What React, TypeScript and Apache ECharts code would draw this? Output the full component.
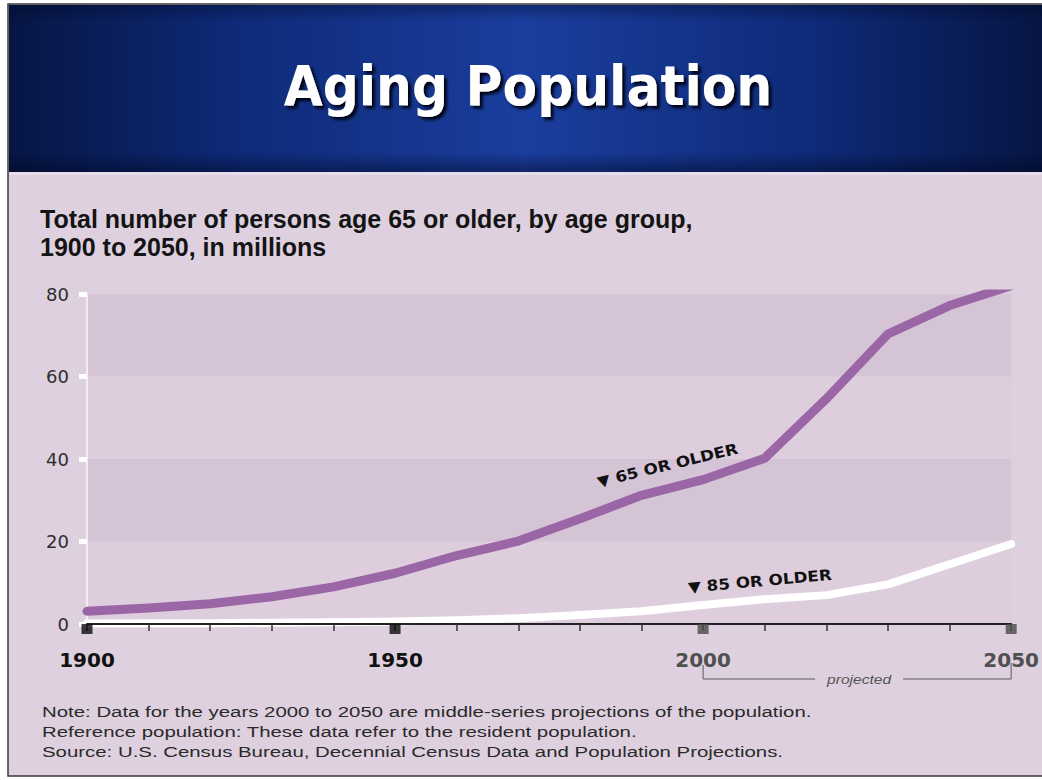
import React, { useEffect, useRef } from "react";
import * as echarts from "echarts";

// Census decades and population aged 65+ / 85+ (millions); 2000 onward are projections
const years = [1900, 1910, 1920, 1930, 1940, 1950, 1960, 1970, 1980, 1990, 2000, 2010, 2020, 2030, 2040, 2050];
const age65Plus = [3.1, 3.9, 4.9, 6.6, 9.0, 12.3, 16.6, 20.1, 25.5, 31.2, 35.0, 40.2, 54.6, 70.3, 77.2, 82.0];
const age85Plus = [0.1, 0.2, 0.2, 0.3, 0.4, 0.6, 0.9, 1.4, 2.2, 3.1, 4.6, 6.0, 7.0, 9.6, 14.5, 19.4];

// Labelled years on the time axis (drawn with a square marker)
const labelYears = [1900, 1950, 2000, 2050];
const projectionStart = 2000;
const projectionEnd = 2050;

const titleText = "Aging Population";
const subtitleLines = [
  "Total number of persons age 65 or older, by age group,",
  "1900 to 2050, in millions",
];
const noteLines = [
  "Note: Data for the years 2000 to 2050 are middle-series projections of the population.",
  "Reference population: These data refer to the resident population.",
  "Source: U.S. Census Bureau, Decennial Census Data and Population Projections.",
];

const PURPLE = "#9b66a5";
const PAGE_BG = "#ded0de";

export default function App() {
  const ref = useRef<HTMLDivElement>(null);

  useEffect(() => {
    document.body.style.margin = "0";
    const chart = echarts.init(ref.current!, null, { renderer: "svg" });

    const staticGraphics: any[] = [
      // slide frame
      {
        id: "frame",
        type: "rect",
        z: -10,
        shape: { x: 8, y: 4, width: 1040, height: 772 },
        style: { fill: PAGE_BG, stroke: "#3a3a3a", lineWidth: 1.5 },
      },
      // header band
      {
        id: "header",
        type: "rect",
        z: -9,
        shape: { x: 9, y: 5, width: 1033, height: 167 },
        style: {
          fill: new echarts.graphic.LinearGradient(0, 0, 1, 0, [
            { offset: 0, color: "#061543" },
            { offset: 0.22, color: "#0e2a78" },
            { offset: 0.5, color: "#1a3e9e" },
            { offset: 0.78, color: "#0e2a78" },
            { offset: 1, color: "#061543" },
          ]),
        },
      },
      {
        id: "headerShade",
        type: "rect",
        z: -8,
        shape: { x: 9, y: 5, width: 1033, height: 167 },
        style: {
          fill: new echarts.graphic.LinearGradient(0, 0, 0, 1, [
            { offset: 0, color: "rgba(0,5,30,0.35)" },
            { offset: 0.1, color: "rgba(0,5,30,0)" },
            { offset: 0.88, color: "rgba(0,5,30,0)" },
            { offset: 1, color: "rgba(0,5,30,0.45)" },
          ]),
        },
      },
      {
        id: "headerEdge",
        type: "rect",
        z: -8,
        shape: { x: 9, y: 172, width: 1033, height: 3 },
        style: { fill: "#e6dcea" },
      },
      {
        id: "title",
        type: "text",
        x: 528,
        y: 86,
        scaleX: 0.9,
        style: {
          text: titleText,
          fill: "#ffffff",
          font: "bold 56px 'DejaVu Sans', sans-serif",
          align: "center",
          verticalAlign: "middle",
          textShadowColor: "rgba(0,0,15,0.95)",
          textShadowOffsetX: 3,
          textShadowOffsetY: 3,
          textShadowBlur: 3,
        },
      },
      ...subtitleLines.map((t, i) => ({
        id: "subtitle" + i,
        type: "text",
        x: 40,
        y: 219 + i * 28,
        style: {
          text: t,
          fill: "#141414",
          font: "bold 25px 'Liberation Sans', Arial, sans-serif",
          align: "left",
          verticalAlign: "middle",
        },
      })),
      ...noteLines.map((t, i) => ({
        id: "note" + i,
        type: "text",
        x: 42,
        y: 712 + i * 20,
        scaleX: 1.36,
        style: {
          text: t,
          fill: "#2a2a2a",
          font: "15px 'Liberation Sans', Arial, sans-serif",
          align: "left",
          verticalAlign: "middle",
        },
      })),
    ];

    const option: any = {
      animation: false,
      backgroundColor: "#ffffff",
      grid: { left: 87, right: 24, top: 294, bottom: 156, containLabel: false },
      xAxis: {
        type: "value",
        min: 1900,
        max: 2050,
        interval: 10,
        z: 4,
        axisLine: { show: true, lineStyle: { color: "#222", width: 2 } },
        axisTick: { show: true, inside: false, length: 7, lineStyle: { color: "#333", width: 1.5 } },
        axisLabel: {
          margin: 26,
          fontFamily: "'DejaVu Sans', sans-serif",
          fontWeight: "bold",
          fontSize: 20,
          formatter: (v: number) => (labelYears.includes(v) ? String(v) : ""),
          color: (v: any) => (Number(v) >= projectionStart ? "#505050" : "#111111"),
        },
        splitLine: { show: false },
      },
      yAxis: {
        type: "value",
        min: 0,
        max: 80,
        interval: 20,
        axisLine: { show: true, lineStyle: { color: "rgba(255,255,255,0.85)", width: 1.5 } },
        axisTick: { show: true, inside: false, length: 8, lineStyle: { color: "#ffffff", width: 5 } },
        axisLabel: {
          margin: 18,
          fontFamily: "'DejaVu Sans', sans-serif",
          fontSize: 18,
          color: "#2e2e2e",
        },
        splitLine: { show: false },
        splitArea: { show: true, areaStyle: { color: ["#ddcddd", "#d5c3d6"] } },
      },
      series: [
        {
          name: "65 or older",
          type: "line",
          data: years.map((y, i) => [y, age65Plus[i]]),
          showSymbol: false,
          symbol: "none",
          z: 3,
          lineStyle: { color: PURPLE, width: 9, cap: "round", join: "round" },
        },
        {
          name: "85 or older",
          type: "line",
          data: years.map((y, i) => [y, age85Plus[i]]),
          showSymbol: false,
          symbol: "none",
          z: 3,
          lineStyle: { color: "#ffffff", width: 8, cap: "round", join: "round" },
        },
        {
          name: "decade markers",
          type: "scatter",
          silent: true,
          clip: false,
          z: 6,
          symbol: "rect",
          symbolSize: [11, 10],
          symbolOffset: [0, 5],
          data: labelYears.map((y) => ({
            value: [y, 0],
            itemStyle: { color: y >= projectionStart ? "#4a4a4a" : "#0d0d0d" },
          })),
        },
      ],
      graphic: staticGraphics,
    };

    chart.setOption(option);

    // annotations anchored to data coordinates
    const px = (x: number, y: number) => chart.convertToPixel({ gridIndex: 0 }, [x, y]) as number[];
    const pStart = px(projectionStart, 0);
    const pEnd = px(projectionEnd, 0);
    const bracketY = 679;
    const mid = (pStart[0] + pEnd[0]) / 2 + 2;
    const gap = 44;
    const l65 = px(1994.2, 38.5);
    const l85 = px(2009.2, 10.4);
    const labelStyle = {
      fill: "#111",
      font: "bold 15px 'DejaVu Sans', sans-serif",
      align: "center",
      verticalAlign: "middle",
    };

    chart.setOption({
      graphic: [
        ...staticGraphics,
        {
          id: "bracket",
          type: "polyline",
          shape: {
            points: [
              [pStart[0], bracketY - 14],
              [pStart[0], bracketY],
              [mid - gap, bracketY],
            ],
          },
          style: { stroke: "#5a5a5a", lineWidth: 1, fill: "none" },
        },
        {
          id: "bracketR",
          type: "polyline",
          shape: {
            points: [
              [mid + gap, bracketY],
              [pEnd[0], bracketY],
              [pEnd[0], bracketY - 16],
            ],
          },
          style: { stroke: "#5a5a5a", lineWidth: 1, fill: "none" },
        },
        {
          id: "projected",
          type: "text",
          x: mid,
          y: bracketY,
          scaleX: 1.2,
          style: {
            text: "projected",
            fill: "#555",
            font: "italic 13px 'Liberation Sans', Arial, sans-serif",
            align: "center",
            verticalAlign: "middle",
          },
        },
        {
          id: "label65",
          type: "text",
          z: 20,
          x: l65[0],
          y: l65[1],
          rotation: (13.5 * Math.PI) / 180,
          scaleX: 1.12,
          style: { ...labelStyle, text: "▼ 65 OR OLDER" },
        },
        {
          id: "label85",
          type: "text",
          z: 20,
          x: l85[0],
          y: l85[1],
          rotation: (5 * Math.PI) / 180,
          scaleX: 1.12,
          style: { ...labelStyle, text: "▼ 85 OR OLDER" },
        },
      ],
    });

    return () => chart.dispose();
  }, []);

  return (
    <div
      ref={ref}
      style={{ position: "absolute", left: 0, top: 0, width: 1042, height: 780 }}
    />
  );
}
